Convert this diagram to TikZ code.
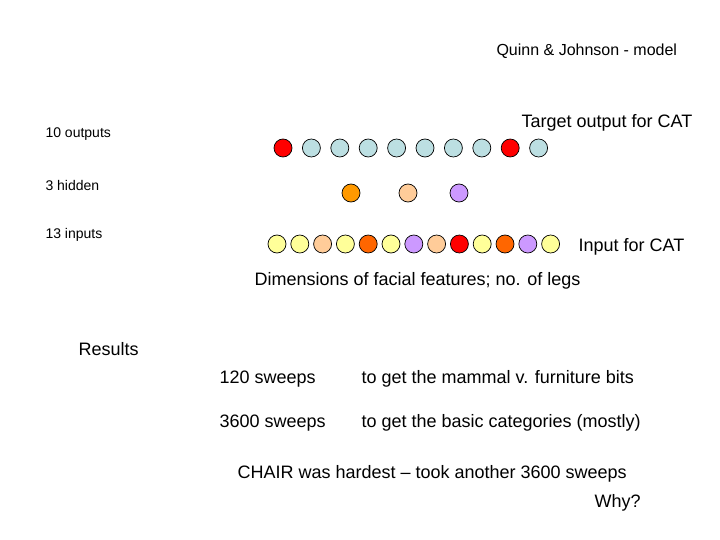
\documentclass[tikz,border=0pt]{standalone}
\usepackage{fontspec}
\setmainfont{Liberation Sans}
\definecolor{paleblue}{HTML}{BCDFE2}
\definecolor{paleyellow}{HTML}{FFFF99}
\definecolor{peach}{HTML}{FFCC99}
\definecolor{lilac}{HTML}{CC99FF}
\definecolor{hotorange}{HTML}{FF6600}
\definecolor{amber}{HTML}{FF9900}
\tikzset{
  unit/.style={circle,draw,line width=0.7pt,minimum size=18pt,inner sep=0pt},
  small/.style={anchor=west,font=\fontsize{14}{16}\selectfont},
  big/.style={anchor=west,font=\fontsize{18}{20}\selectfont},
}
\begin{document}
\begin{tikzpicture}[x=1pt,y=-1pt]
\useasboundingbox (0,0) rectangle (720,540);
% layer labels
\node[anchor=west,font=\fontsize{16}{18}\selectfont] (title) at (493,51) {Quinn \& Johnson - model};
\node[small] (lout) at (42,134) {10 outputs};
\node[small] (lhid) at (42,185) {3 hidden};
\node[small] (lin) at (42,235) {13 inputs};
\node[big] (target) at (518,123) {Target output for CAT};
\node[big] (input) at (575,247) {Input for CAT};
\node[big] (dims) at (251,281) {Dimensions of facial features; no. of legs};
% units
\foreach \c [count=\i] in {red,paleblue,paleblue,paleblue,paleblue,paleblue,paleblue,paleblue,red,paleblue}
  \node[unit,fill=\c] (o\i) at ({283+28.4*(\i-1)},148) {};
\foreach \c/\x [count=\i] in {amber/351,peach/408,lilac/459}
  \node[unit,fill=\c] (h\i) at (\x,193) {};
\foreach \c [count=\i] in {paleyellow,paleyellow,peach,paleyellow,hotorange,paleyellow,lilac,peach,red,paleyellow,hotorange,lilac,paleyellow}
  \node[unit,fill=\c] (i\i) at ({277+22.8*(\i-1)},244) {};
% results
\node[big] (res) at (75,349) {Results};
\node[big] (s1) at (216,379) {120 sweeps};
\node[big] (r1) at (358,379) {to get the mammal v. furniture bits};
\node[big] (s2) at (216,423) {3600 sweeps};
\node[big] (r2) at (358,423) {to get the basic categories (mostly)};
\node[big] (chair) at (234,474) {CHAIR was hardest -- took another 3600 sweeps};
\node[big] (why) at (591,503) {Why?};
\end{tikzpicture}
\end{document}
